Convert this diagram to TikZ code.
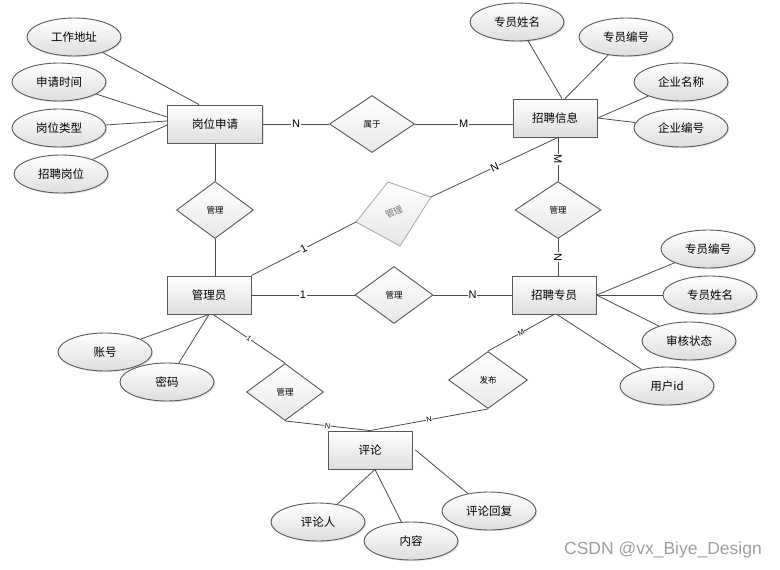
\documentclass[tikz,border=0pt]{standalone}
\usepackage{fontspec}
\setmainfont{Liberation Sans}
\newfontfamily\cjk{Noto Sans CJK SC}
\usetikzlibrary{shapes.geometric,shadows}
\begin{document}
\begin{tikzpicture}[x=1pt,y=-1pt,
  line/.style={draw=black!70, line width=0.8pt},
  shadebox/.style={top color=white, bottom color=black!13, draw=black!65, line width=0.9pt},
  shd/.style={drop shadow={shadow xshift=1.2pt, shadow yshift=-1.2pt, opacity=0.22}},
  ent/.style={shadebox, shd, rectangle, minimum width=84pt, minimum height=38pt, inner sep=0pt, font=\cjk\fontsize{11.5}{13}\selectfont},
  attr/.style={shadebox, shd, ellipse, minimum width=94pt, minimum height=38pt, inner sep=0pt, font=\cjk\fontsize{11.5}{13}\selectfont},
  rel/.style={top color=white, bottom color=black!9, draw=black!65, line width=0.9pt, diamond, minimum height=57pt, inner sep=0pt, font=\cjk\fontsize{8.5}{10}\selectfont},
  card/.style={fill=white, inner sep=0.8pt, font=\fontsize{11}{12}\selectfont},
  cards/.style={fill=white, inner sep=0.4pt, font=\fontsize{7.5}{8}\selectfont, sloped},
]
\useasboundingbox (0,0) rectangle (780,570);

% entities
\node[ent, minimum width=95pt] (sq) at (215,124) {岗位申请};
\node[ent] (info) at (555,118) {招聘信息};
\node[ent] (adm) at (209,295) {管理员};
\node[ent] (zm) at (554,295) {招聘专员};
\node[ent] (pl) at (370,450) {评论};

% relationships
\node[rel, minimum width=85pt] (sy) at (372,124) {属于};
\node[rel, minimum width=77pt] (m1) at (215,210) {管理};
\node[rel, minimum width=78pt] (mm) at (394,295) {管理};
\node[rel, minimum width=86pt] (mr) at (558,210) {管理};
\node[rel, minimum width=77pt] (ml) at (285,392) {管理};
\node[rel, minimum width=79pt] (fb) at (488,380) {发布};

% gray skewed diamond
\coordinate (gl) at (356,222);
\coordinate (gt) at (388,182);
\coordinate (gr) at (431,197);
\coordinate (gb) at (400,246);
\draw[draw=black!35, line width=0.8pt, top color=white, bottom color=black!10] (gl) -- (gt) -- (gr) -- (gb) -- cycle;
\node[rotate=25, text=black!55, font=\cjk\fontsize{9}{10}\selectfont] (gtxt) at (394,212) {管理};

% attributes of 岗位申请
\node[attr] (a1) at (74,37) {工作地址};
\node[attr] (a2) at (59,82) {申请时间};
\node[attr] (a3) at (59,128) {岗位类型};
\node[attr] (a4) at (61,174) {招聘岗位};
\draw[line] (a1) -- ([xshift=-16pt]sq.north);
\draw[line] (a2) -- ([yshift=7pt]sq.west);
\draw[line] (a3) -- ([yshift=3pt]sq.west);
\draw[line] (a4) -- ([yshift=-1pt]sq.west);

% attributes of 招聘信息
\node[attr] (b1) at (517,22) {专员姓名};
\node[attr] (b2) at (626,37) {专员编号};
\node[attr] (b3) at (681,82) {企业名称};
\node[attr] (b4) at (681,128) {企业编号};
\draw[line] (b1) -- ([xshift=7pt]info.north);
\draw[line] (b2) -- ([xshift=10pt]info.north);
\draw[line] (b3) -- (info.east);
\draw[line] (b4) -- (info.east);

% attributes of 招聘专员
\node[attr] (c1) at (708,249) {专员编号};
\node[attr] (c2) at (710,295) {专员姓名};
\node[attr] (c3) at (689,341) {审核状态};
\node[attr] (c4) at (667,386) {用户id};
\draw[line] (c1) -- (zm.east);
\draw[line] (c2) -- (zm.east);
\draw[line] (c3) -- (zm.east);
\draw[line] (c4) -- ([xshift=3pt]zm.south);

% attributes of 管理员
\node[attr] (d1) at (105,352) {账号};
\node[attr] (d2) at (167,382) {密码};
\draw[line] (d1) -- (adm.south);
\draw[line] (d2) -- (adm.south);

% attributes of 评论
\node[attr] (e1) at (318,522) {评论人};
\node[attr] (e2) at (411,541) {内容};
\node[attr] (e3) at (489,511) {评论回复};
\draw[line] (e1) -- ([xshift=5pt]pl.south);
\draw[line] (e2) -- ([xshift=5pt]pl.south);
\draw[line] (e3) -- ([xshift=3pt]pl.east);

% relationship connectors
\draw[line] (sq.east) -- node[card]{N} (sy.west);
\draw[line] (sy.east) -- node[card]{M} (sy.east -| info.west);
\draw[line] (sq.south) -- (m1.north);
\draw[line] (m1.south) -- (m1.south |- adm.north);
\draw[line] (adm.east) -- node[card]{1} (mm.west);
\draw[line] (mm.east) -- node[card]{N} (zm.west);
\draw[line] (adm.north east) -- node[card, sloped]{1} (gl);
\draw[line] (gr) -- node[card, sloped]{N} (mr.north |- info.south);
\draw[line] (mr.north |- info.south) -- node[card, sloped]{M} (mr.north);
\draw[line] (mr.south) -- node[card, sloped]{N} (mr.south |- zm.north);
\draw[line] ([xshift=4pt]adm.south) -- node[cards]{1} (ml.north);
\draw[line] (ml.south) -- node[cards]{N} (pl.north);
\draw[line] (zm.south) -- node[cards]{M} (fb.north);
\draw[line] (fb.south) -- node[cards]{N} (pl.north);

% watermark
\node[text=black!38, font=\fontsize{17.5}{20}\selectfont] (wm) at (663,550) {CSDN @vx\_Biye\_Design};
\end{tikzpicture}
\end{document}
